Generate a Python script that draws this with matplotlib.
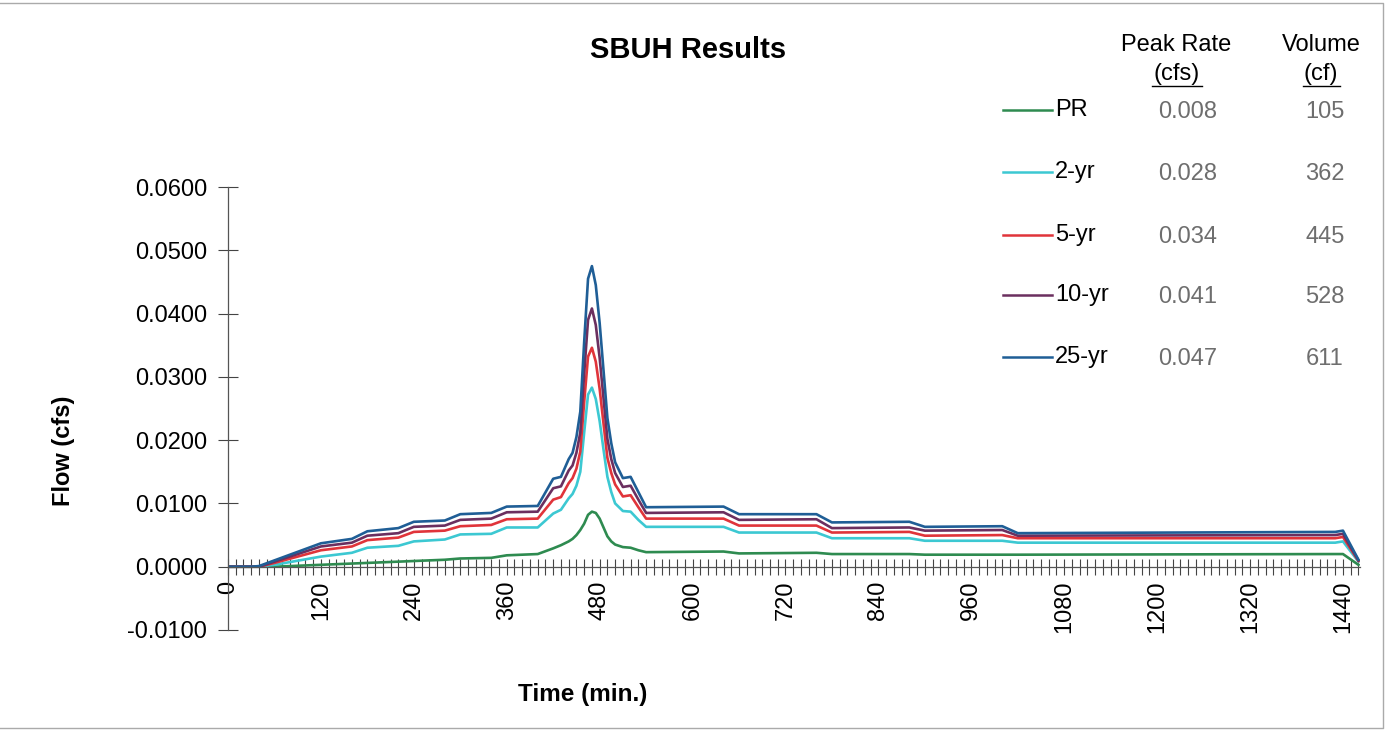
import numpy as np
import matplotlib
matplotlib.use("Agg")
import matplotlib.pyplot as plt
from matplotlib.lines import Line2D

plt.rcParams['font.family'] = ['Liberation Sans', 'DejaVu Sans']

# time (min) at the break points of the hydrographs
t = [0, 30, 40, 60, 120, 160, 180, 220, 240, 280, 300, 340, 360, 400, 420, 430,
     440, 445, 450, 455, 460, 465, 470, 475, 480, 485, 490, 495, 500, 510, 520,
     530, 540, 640, 660, 760, 780, 880, 900, 1000, 1020, 1430, 1440, 1460]

pr = [0, 0, 0, 0, 0.0003, 0.0005, 0.0006, 0.0008, 0.0009, 0.0011, 0.0013, 0.0014,
      0.0018, 0.0020, 0.0029, 0.0034,
      0.0040, 0.0044, 0.0050, 0.0058, 0.0068, 0.0082, 0.0087, 0.0085, 0.0076,
      0.0062, 0.0048, 0.0040, 0.0035,
      0.0031, 0.0030, 0.0026, 0.0023, 0.0024, 0.0021, 0.0022,
      0.0020, 0.0020, 0.0019, 0.0019, 0.0019, 0.0020, 0.0020, 0.0003]
yr2 = [0, 0, 0, 0.0003, 0.0016, 0.0022, 0.0030, 0.0033, 0.0040, 0.0043, 0.0051,
       0.0052, 0.0062, 0.0062, 0.0084, 0.0090,
       0.0108, 0.0115, 0.0128, 0.0150, 0.0212, 0.0272, 0.0283, 0.0265, 0.0230,
       0.0185, 0.0142, 0.0118, 0.0100,
       0.0088, 0.0087, 0.0074, 0.0063, 0.0063, 0.0054,
       0.0054, 0.0045, 0.0045, 0.0041, 0.0041, 0.0038, 0.0038, 0.0040, 0.0008]
yr5 = [0, 0, 0, 0.0006, 0.0026, 0.0032, 0.0042, 0.0046, 0.0055, 0.0057, 0.0064,
       0.0066, 0.0075, 0.0076, 0.0106, 0.0110,
       0.0132, 0.0140, 0.0155, 0.0182, 0.0260, 0.0332, 0.0346, 0.0324, 0.0281,
       0.0226, 0.0172, 0.0148, 0.0130,
       0.0111, 0.0113, 0.0094, 0.0076, 0.0076, 0.0065,
       0.0065, 0.0054, 0.0055, 0.0049, 0.0050, 0.0045, 0.0045, 0.0047, 0.0009]
yr10 = [0, 0, 0, 0.0008, 0.0032, 0.0038, 0.0049, 0.0053, 0.0063, 0.0065, 0.0074,
        0.0076, 0.0086, 0.0087, 0.0124, 0.0127,
        0.0152, 0.0160, 0.0180, 0.0212, 0.0305, 0.0390, 0.0408, 0.0382, 0.0330,
        0.0266, 0.0202, 0.0170, 0.0148,
        0.0126, 0.0128, 0.0106, 0.0085, 0.0086, 0.0074,
        0.0075, 0.0061, 0.0062, 0.0057, 0.0058, 0.0049, 0.0050, 0.0052, 0.0010]
yr25 = [0, 0, 0.0001, 0.0010, 0.0037, 0.0044, 0.0056, 0.0061, 0.0071, 0.0073,
        0.0083, 0.0085, 0.0095, 0.0096, 0.0139, 0.0142,
        0.0170, 0.0180, 0.0205, 0.0245, 0.0355, 0.0455, 0.0475, 0.0445, 0.0385,
        0.0310, 0.0235, 0.0195, 0.0165,
        0.0140, 0.0142, 0.0118, 0.0094, 0.0095, 0.0083,
        0.0083, 0.0070, 0.0071, 0.0063, 0.0064, 0.0053, 0.0055, 0.0057, 0.0011]

names = ['PR', '2-yr', '5-yr', '10-yr', '25-yr']
peak_rate = ['0.008', '0.028', '0.034', '0.041', '0.047']
volume = ['105', '362', '445', '528', '611']
colors = ['#2e8b50', '#3cc8d2', '#e0343a', '#6b2f5f', '#1f5e96']
series = [pr, yr2, yr5, yr10, yr25]

W, H = 1388, 733
fig = plt.figure(figsize=(W / 100, H / 100), dpi=100)
ax = fig.add_axes([228 / W, 1 - 630 / H, 1132 / W, 443 / H])

for s, c in zip(series, colors):
    ax.plot(t, s, color=c, lw=1.9, solid_joinstyle='round')

ax.set_xlim(0, 1462)
ax.set_ylim(-0.01, 0.06)
ax.spines['top'].set_visible(False)
ax.spines['right'].set_visible(False)
ax.spines['bottom'].set_position(('data', 0))
for sp in ['left', 'bottom']:
    ax.spines[sp].set_color('#555555')
    ax.spines[sp].set_linewidth(0.9)

ax.set_xticks(np.arange(0, 1441, 120))
ax.set_xticks(np.arange(0, 1461, 10), minor=True)
ax.set_yticks(np.arange(-0.01, 0.0601, 0.01))
ax.yaxis.set_major_formatter(plt.FuncFormatter(lambda v, p: f'{v:.4f}'))
ax.tick_params(axis='x', which='both', direction='inout', length=12, width=0.8,
               color='#444444', labelsize=17, labelrotation=90, pad=4)
ax.tick_params(axis='y', direction='inout', length=14, width=0.8,
               color='#444444', labelsize=17, pad=8)

ax.set_ylabel('Flow (cfs)', fontsize=17, fontweight='bold', labelpad=20)
ax.yaxis.set_label_coords(-(228 - 75) / 1132, (630 - 451) / 443)

fig.text(583 / W, 1 - 695 / H, 'Time (min.)', fontsize=17.5, fontweight='bold',
         ha='center', va='center')
fig.text(688 / W, 1 - 50 / H, 'SBUH Results', fontsize=21, fontweight='bold',
         ha='center', va='center')

# legend table
fig.text(1176 / W, 1 - 45 / H, 'Peak Rate', fontsize=17, ha='center', va='center')
fig.text(1177 / W, 1 - 74 / H, '(cfs)', fontsize=17, ha='center', va='center')
fig.text(1321 / W, 1 - 45 / H, 'Volume', fontsize=17, ha='center', va='center')
fig.text(1321 / W, 1 - 74 / H, '(cf)', fontsize=17, ha='center', va='center')
fig.add_artist(Line2D([1152 / W, 1202 / W], [1 - 86 / H] * 2, color='black', lw=1))
fig.add_artist(Line2D([1303 / W, 1340 / W], [1 - 86 / H] * 2, color='black', lw=1))

row_y = [110, 172, 235, 295, 357]
for name, pk, vol, c, yy in zip(names, peak_rate, volume, colors, row_y):
    fy = 1 - yy / H
    fig.add_artist(Line2D([1003 / W, 1052 / W], [fy, fy], color=c, lw=1.8))
    fig.text(1055 / W, fy, name, fontsize=17, ha='left', va='center')
    fig.text(1188 / W, fy - 2 / H, pk, fontsize=17, color='#6e6e6e',
             ha='center', va='center')
    fig.text(1325 / W, fy - 2 / H, vol, fontsize=17, color='#6e6e6e',
             ha='center', va='center')

# chart border
fig.add_artist(Line2D([0, 1383 / W, 1383 / W, 0], [1 - 3 / H, 1 - 3 / H, 1 - 728 / H, 1 - 728 / H],
                      color='#aaaaaa', lw=1))

fig.savefig('out.png', dpi=100)
